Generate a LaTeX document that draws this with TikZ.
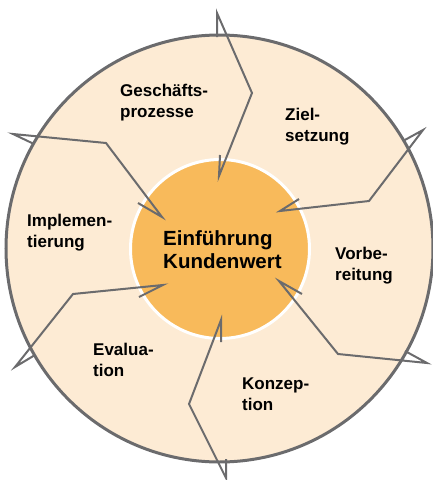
\documentclass[tikz,border=0pt]{standalone}
\usepackage{fontspec}
\setmainfont{Liberation Sans}
\definecolor{rimfill}{HTML}{FDEBD4}
\definecolor{hubfill}{HTML}{F8BA5B}
\definecolor{linegrey}{HTML}{6B6B6D}
% two left-aligned lines whose first baseline sits on the node's base
\newcommand\phaselines[2]{\begin{tabular}[t]{@{}l@{}}#1\\#2\end{tabular}}
\begin{document}
\begin{tikzpicture}[x=1pt,y=-1pt,
  phase/.style={anchor=base west, inner sep=0pt, font=\fontsize{17}{21}\selectfont\bfseries},
  title/.style={anchor=base west, inner sep=0pt, font=\fontsize{20.5}{23}\selectfont\bfseries},
  ring/.style={circle, inner sep=0pt},
  flow/.style={draw=linegrey, line width=2pt, line join=miter}]
\useasboundingbox (0,0) rectangle (433,480);

% outer ring and central hub
\node[ring, draw=linegrey, line width=3pt, fill=rimfill, minimum size=427pt] (rim) at (219.5,248.5) {};
\node[ring, draw=white, line width=3pt, fill=hubfill, minimum size=179pt] (hub) at (220,249) {};

% corner points of the six zigzag connectors
\coordinate (a1) at (217,37);  \coordinate (b1) at (217,13);  \coordinate (c1) at (252,93);
\coordinate (d1) at (219,176); \coordinate (e1) at (220,155);
\coordinate (a2) at (34,144);  \coordinate (b2) at (13,134);  \coordinate (c2) at (106,143);
\coordinate (d2) at (162,217); \coordinate (e2) at (138,203);
\coordinate (a3) at (403,141); \coordinate (b3) at (423,130); \coordinate (c3) at (369,201);
\coordinate (d3) at (280,211); \coordinate (e3) at (299,199);
\coordinate (a4) at (405,351); \coordinate (b4) at (427,363); \coordinate (c4) at (338,354);
\coordinate (d4) at (279,281); \coordinate (e4) at (302,294);
\coordinate (a5) at (221,342); \coordinate (b5) at (221,320); \coordinate (c5) at (189,404);
\coordinate (d5) at (226,478); \coordinate (e5) at (226,459);
\coordinate (a6) at (35,355);  \coordinate (b6) at (15,367);  \coordinate (c6) at (73,294);
\coordinate (d6) at (163,285); \coordinate (e6) at (139,297);

\foreach \k in {1,...,6}
  \draw[flow] (a\k) -- (b\k) -- (c\k) -- (d\k) -- (e\k);

% phase labels
\node[phase] (gp) at (120,96)  {\phaselines{Geschäfts-}{prozesse}};
\node[phase] (zs) at (285,120) {\phaselines{Ziel-}{setzung}};
\node[phase] (vb) at (335,259) {\phaselines{Vorbe-}{reitung}};
\node[phase] (kz) at (242,389) {\phaselines{Konzep-}{tion}};
\node[phase] (ev) at (93,355)  {\phaselines{Evalua-}{tion}};
\node[phase] (im) at (27,226)  {\phaselines{Implemen-}{tierung}};

% centre title
\node[title] (ek) at (163,245) {\phaselines{Einführung}{Kundenwert}};
\end{tikzpicture}
\end{document}
